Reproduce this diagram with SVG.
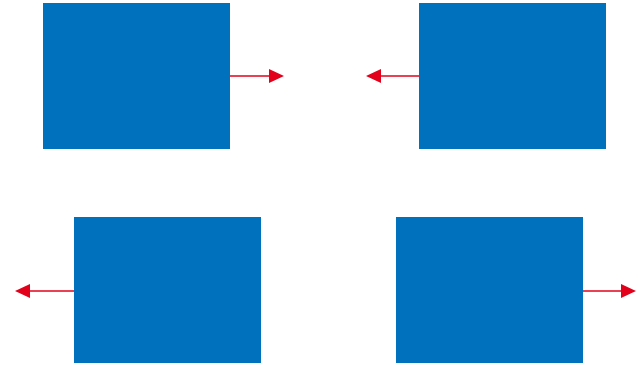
<svg xmlns="http://www.w3.org/2000/svg" width="638" height="365" viewBox="0 0 638 365">
<style>
.box{fill:#0071BC}
.conn{stroke:#E2001A;stroke-width:1.5;fill:none}
.head{fill:#E2001A}
</style>
<rect width="638" height="365" fill="#fff"/>
<g id="node1"><rect class="box" x="43" y="3" width="187" height="146"/></g>
<g id="node2"><rect class="box" x="419" y="3" width="187" height="146"/></g>
<g id="node3"><rect class="box" x="74" y="217" width="187" height="146"/></g>
<g id="node4"><rect class="box" x="396" y="217" width="187" height="146"/></g>
<g id="connectors">
<line class="conn" x1="230" y1="76" x2="270" y2="76"/>
<polygon class="head" points="269,69 284,76 269,83"/>
<line class="conn" x1="419" y1="76" x2="380" y2="76"/>
<polygon class="head" points="381,69 366,76 381,83"/>
<line class="conn" x1="74" y1="291" x2="29" y2="291"/>
<polygon class="head" points="30,284 15,291 30,298"/>
<line class="conn" x1="583" y1="291" x2="622" y2="291"/>
<polygon class="head" points="621,284 636,291 621,298"/>
</g>
</svg>
